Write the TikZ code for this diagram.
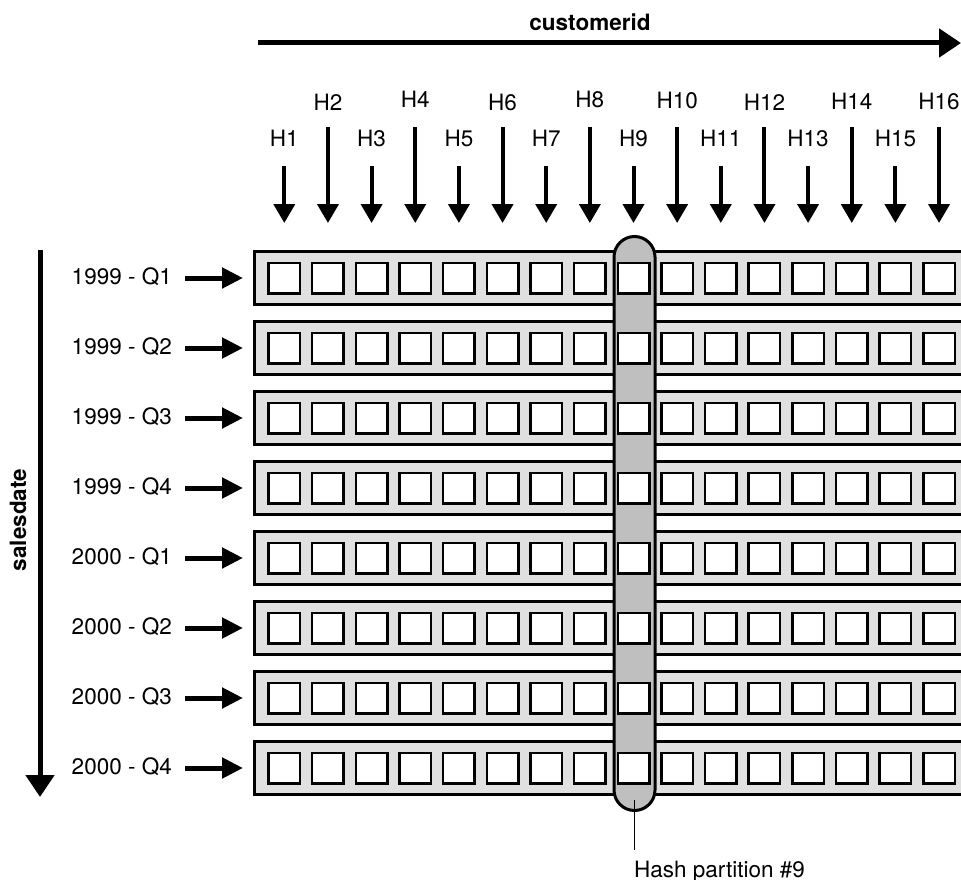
\documentclass[tikz,border=0pt]{standalone}
\usepackage{fontspec}
\setmainfont{TeX Gyre Heros}
\usetikzlibrary{arrows.meta}
\definecolor{rowgray}{HTML}{E0E0E0}
\definecolor{colgray}{HTML}{BFBFBF}
\begin{document}
\begin{tikzpicture}[x=1pt,y=-1pt,
  font=\fontsize{22.5}{27}\selectfont,
  rowbox/.style={draw=black, line width=3pt, fill=rowgray, minimum width=754pt, minimum height=53pt, inner sep=0pt},
  cell/.style={draw=black, line width=2.5pt, fill=white, minimum width=31.5pt, minimum height=30.5pt, inner sep=0pt},
  colbox/.style={draw=black, line width=3pt, fill=colgray, rounded corners=20.5pt, minimum width=41pt, minimum height=574pt, inner sep=0pt},
  lbl/.style={inner sep=0pt},
  harrow/.style={line width=4pt, -{Triangle[length=19pt,width=21pt]}},
  rowarrow/.style={line width=5pt, -{Triangle[length=21pt,width=20pt]}},
  axisarrow/.style={line width=5pt, -{Triangle[length=22pt,width=28pt]}},
  thinline/.style={line width=1.2pt}]
\useasboundingbox (0,0) rectangle (961,880);
\clip (0,0) rectangle (961,880);

% top axis
\coordinate (cs) at (258,43);
\coordinate (ce) at (961,43);
\draw[axisarrow] (cs) -- (ce);
\node[lbl, font=\fontsize{22.5}{27}\selectfont\bfseries] (cust) at (590,22) {customerid};

% left axis
\coordinate (ss) at (40,250);
\coordinate (se) at (40,797);
\draw[axisarrow] (ss) -- (se);
\node[lbl, rotate=90, font=\fontsize{22.5}{27}\selectfont\bfseries] (sales) at (18,520) {salesdate};

% rows
\foreach \i in {1,...,8}{
  \node[rowbox] (r\i) at (631.5,{278+70*(\i-1)}) {};
}

% hash partition column
\node[colbox] (col) at (634.5,523.5) {};

% cells
\foreach \i in {1,...,8}{
  \foreach \j in {1,...,16}{
    \node[cell] (c\i-\j) at ({284.3+43.65*(\j-1)},{278+70*(\i-1)}) {};
  }
}

% row labels
\foreach \i/\t in {1/1999 - Q1,2/1999 - Q2,3/1999 - Q3,4/1999 - Q4,5/2000 - Q1,6/2000 - Q2,7/2000 - Q3,8/2000 - Q4}{
  \node[lbl, anchor=east] (l\i) at (172,{277+70*(\i-1)}) {\t};
  \draw[rowarrow, shorten <=13pt, shorten >=10pt] (l\i.east |- r\i.west) -- (r\i.west);
}

% H arrows and labels
\foreach \j/\ly in {2/102,4/99.5,6/102.5,8/99.5,10/100,12/102.5,14/101.5,16/101.5}{
  \coordinate (hs\j) at ({284.3+43.65*(\j-1)},127);
  \coordinate (he\j) at ({284.3+43.65*(\j-1)},223);
  \draw[harrow] (hs\j) -- (he\j);
  \node[lbl] (h\j) at ({284.3+43.65*(\j-1)},\ly) {H\j};
}
\foreach \j in {1,3,5,7,9,11,13,15}{
  \coordinate (hs\j) at ({284.3+43.65*(\j-1)},166);
  \coordinate (he\j) at ({284.3+43.65*(\j-1)},223);
  \draw[harrow] (hs\j) -- (he\j);
  \node[lbl] (h\j) at ({284.3+43.65*(\j-1)},138) {H\j};
}

% hash partition label
\coordinate (hb) at (634.5,800);
\coordinate (ht) at (634.5,850);
\draw[thinline] (hb) -- (ht);
\node[lbl, anchor=base west] (hash) at (634,877) {Hash partition \#9};
\end{tikzpicture}
\end{document}
